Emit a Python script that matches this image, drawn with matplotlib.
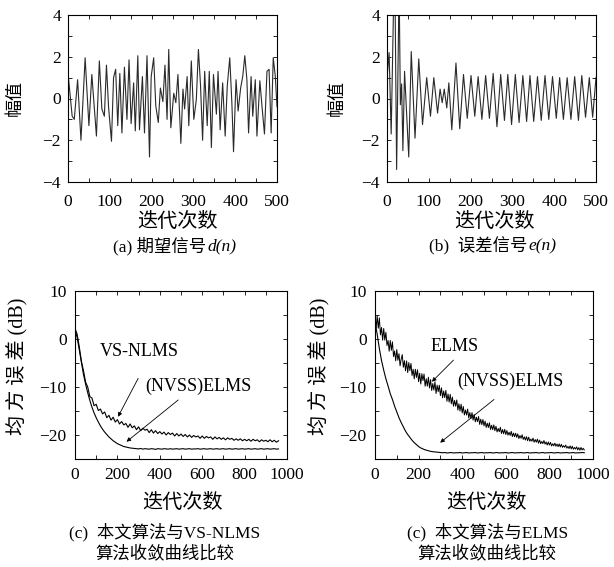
import matplotlib
matplotlib.use('Agg')
import matplotlib.pyplot as plt
from matplotlib.ticker import MultipleLocator

plt.rcParams['font.family'] = ['Liberation Serif', 'Noto Sans CJK SC']
plt.rcParams['axes.unicode_minus'] = True

# (a) desired signal d(n): extremes
a_n = [0, 1, 10, 15, 23, 31, 41, 50, 57, 68, 75, 81, 87, 92, 97, 104, 109, 114,
       119, 124, 129, 135, 141, 146, 151, 157, 161, 167, 171, 178, 183, 189,
       195, 199, 205, 210, 216, 221, 227, 232, 237, 241, 246, 253, 258, 263,
       270, 275, 279, 285, 289, 295, 301, 307, 312, 317, 322, 327, 333, 338,
       343, 348, 355, 359, 364, 370, 376, 381, 387, 392, 396, 402, 407, 413,
       418, 423, 428, 432, 438, 442, 448, 452, 459, 464, 470, 476, 481, 486,
       491, 496, 500]
a_val = [0.6, 1.0, -0.85, -1.0, 0.9, -2.0, 1.95, -1.3, 1.15, -1.8, 1.8, -0.5,
         -0.85, 1.6, -0.4, -2.05, 1.0, 1.4, -1.3, 1.2, -1.65, 1.5, -1.0, 1.85,
         -1.2, 0.75, -1.55, 2.05, -1.5, 1.05, -1.65, 2.05, -2.8, 1.05, 1.95,
         -0.35, -1.15, 0.5, -0.15, 1.6, -1.0, 2.35, -1.4, 0.25, -0.2, 1.15,
         -2.15, 0.45, -0.5, 1.05, -1.3, 1.8, -1.0, -0.05, 2.35, 0.65, -2.0, 1.3,
         -1.3, 1.3, -2.35, 1.15, -0.75, 1.3, -1.5, 0.75, -1.8, 0.6, 1.95, -0.2,
         -2.55, 0.9, -0.6, 0.5, 1.05, 2.05, 0.9, -1.65, 1.05, -0.85, 0.9, -1.8,
         0.85, -0.35, -1.7, 1.3, 1.4, -1.65, 1.95, 1.05, -0.4]

# (b) error signal e(n)
b_n = [0, 5, 10, 16, 19, 23, 26, 29, 32, 35, 38, 42, 52, 58, 67, 76, 85, 95,
       104, 112, 121, 127, 132, 137, 143, 148, 155, 165, 174, 183, 192, 201,
       210, 218, 227, 236, 245, 254, 263, 272, 281, 289, 298, 307, 316, 325,
       334, 342, 351, 360, 369, 378, 387, 396, 405, 413, 422, 431, 440, 449,
       458, 466, 475, 484, 492, 500]
b_val = [1.0, 2.2, -1.7, 4.8, 5.5, -3.4, 1.0, 5.5, -0.3, 0.7, -2.5, 1.3, -2.8,
         2.25, -1.9, 1.9, -1.25, 1.0, -0.85, 1.0, -0.7, 0.45, -0.2, 0.45,
         -0.45, 0.75, -1.5, 1.7, -1.45, 1.15, -0.95, 1.1, -0.85, 1.05, -1.0,
         1.1, -0.95, 1.2, -1.35, 1.15, -1.05, 1.15, -1.25, 1.15, -1.15, 1.1,
         -1.1, 1.1, -1.1, 1.05, -1.05, 1.1, -1.0, 1.05, -0.95, 1.0, -1.0, 1.0,
         -1.0, 1.05, -1.05, 1.1, -0.9, 1.0, -0.9, 1.0]

# MSE curves (dB)
mse_n = list(range(0, 961, 10))
vsnlms_c = [2.2, 1.0, -1.6, -4.6, -6.6, -9.0, -10.0, -12.0, -12.3, -13.9,
            -13.6, -14.9, -14.6, -15.6, -15.2, -16.4, -15.9, -16.9, -16.3, -17.3,
            -16.8, -17.7, -17.2, -17.9, -17.6, -18.4, -17.7, -18.5, -18.1, -18.9,
            -18.3, -19.1, -18.6, -19.0, -18.8, -19.5, -18.9, -19.6, -19.1, -19.7,
            -19.3, -19.8, -19.4, -20.0, -19.5, -19.9, -19.6, -20.2, -19.7, -20.2,
            -19.8, -20.3, -19.9, -20.4, -20.0, -20.5, -20.1, -20.4, -20.2, -20.7,
            -20.2, -20.7, -20.3, -20.6, -20.4, -20.9, -20.4, -20.8, -20.5, -20.9,
            -20.6, -21.0, -20.6, -20.9, -20.7, -21.1, -20.8, -21.1, -20.8, -21.2,
            -20.9, -21.2, -20.9, -21.3, -20.9, -21.2, -21.0, -21.4, -21.0, -21.3,
            -21.1, -21.4, -21.0, -21.4, -21.1, -21.5, -21.2]
nvss_c = [2.0, 0.3, -2.2, -4.8, -7.4, -9.4, -11.2, -12.8, -14.2, -15.4,
          -16.4, -17.3, -18.1, -18.8, -19.4, -19.9, -20.4, -20.8, -21.2, -21.5,
          -21.8, -22.0, -22.2, -22.4, -22.5, -22.6, -22.7, -22.75, -22.8, -22.85,
          -22.9, -22.8, -22.95, -22.85, -22.9, -22.95, -22.85, -22.9, -23.0, -22.85,
          -22.9, -22.95, -22.85, -22.9, -22.95, -22.85, -22.95, -22.9, -22.85, -22.95,
          -22.9, -22.85, -22.95, -22.9, -22.85, -22.95, -22.9, -22.9, -22.85, -22.95,
          -22.9, -22.85, -22.95, -22.9, -22.85, -22.95, -22.9, -22.85, -22.95, -22.9,
          -22.85, -22.95, -22.9, -22.85, -22.95, -22.9, -22.85, -22.95, -22.9, -22.85,
          -22.95, -22.9, -22.85, -22.95, -22.9, -22.85, -22.95, -22.9, -22.85, -22.95,
          -22.9, -22.85, -22.95, -22.9, -22.85, -22.95, -22.9]

elms_n = list(range(0, 961, 5))
elms_d = [5.0, 2.25, 4.8, 2.25, 4.4, 0.85, 2.4, -0.25, 2.2, -0.25,
          1.4, -1.35, -0.3, -2.55, -0.3, -2.35, -0.6, -3.65, -2.5, -4.55,
          -2.2, -4.43, -3.06, -5.59, -4.22, -3.25, -5.88, -4.51, -6.64, -4.57,
          -7.0, -4.9, -6.6, -5.1, -7.6, -6.3, -8.3, -6.3, -8.0, -6.4,
          -8.9, -7.14, -9.38, -7.22, -8.66, -7.3, -9.84, -8.28, -9.82, -7.96,
          -10.2, -8.46, -10.72, -9.28, -10.64, -8.9, -11.36, -9.62, -10.98, -9.64,
          -11.8, -10.18, -12.26, -10.84, -12.22, -10.7, -12.98, -11.46, -13.14, -11.52,
          -13.5, -12.1, -14.0, -12.8, -14.0, -12.7, -14.8, -13.5, -15.0, -13.6,
          -15.4, -14.06, -15.82, -14.78, -15.84, -14.6, -16.46, -15.32, -16.58, -15.34,
          -16.9, -15.73, -17.26, -16.29, -17.22, -16.15, -17.78, -16.71, -17.84, -16.77,
          -18.1, -17.11, -18.42, -17.53, -18.44, -17.45, -18.86, -17.97, -18.88, -17.89,
          -19.1, -18.18, -19.36, -18.64, -19.32, -18.4, -19.68, -18.86, -19.74, -18.82,
          -19.9, -19.07, -20.04, -19.41, -20.08, -19.25, -20.32, -19.59, -20.36, -19.63,
          -20.5, -19.77, -20.74, -20.11, -20.68, -19.95, -20.92, -20.39, -21.06, -20.33,
          -21.2, -20.45, -21.3, -20.85, -21.3, -20.65, -21.5, -20.95, -21.5, -20.85,
          -21.7, -21.05, -21.8, -21.35, -21.8, -21.15, -21.9, -21.45, -22.1, -21.45,
          -22.1, -21.54, -22.28, -21.82, -22.26, -21.7, -22.34, -21.88, -22.42, -21.86,
          -22.5, -21.94, -22.58, -22.22, -22.56, -22.1, -22.74, -22.38, -22.82, -22.26,
          -22.9, -22.33, -22.97, -22.6, -22.93, -22.47, -23.1, -22.63, -23.17, -22.6,
          -23.13, -22.77, -23.1]
nvss_d = [3.5, 1.0, -2.0, -4.5, -6.5, -8.3, -9.8, -11.4, -12.6, -14.0,
          -15.2, -16.4, -17.4, -18.3, -19.2, -19.9, -20.5, -21.1, -21.6, -22.0,
          -22.4, -22.7, -22.9, -23.1, -23.2, -23.35, -23.45, -23.5, -23.55, -23.6,
          -23.65, -23.7, -23.65, -23.75, -23.7, -23.65, -23.75, -23.7, -23.7, -23.65,
          -23.75, -23.7, -23.65, -23.75, -23.7, -23.7, -23.65, -23.75, -23.7, -23.65,
          -23.75, -23.7, -23.7, -23.65, -23.75, -23.7, -23.65, -23.75, -23.7, -23.7,
          -23.65, -23.75, -23.7, -23.65, -23.75, -23.7, -23.7, -23.65, -23.75, -23.7,
          -23.65, -23.75, -23.7, -23.7, -23.65, -23.75, -23.7, -23.65, -23.75, -23.7,
          -23.7, -23.65, -23.75, -23.7, -23.65, -23.75, -23.7, -23.7, -23.65, -23.75,
          -23.7, -23.65, -23.75, -23.7, -23.7, -23.65, -23.7]

W, H = 614, 567
fig = plt.figure(figsize=(W / 100, H / 100), dpi=100)


def px_axes(left, top, right, bottom):
    return fig.add_axes([left / W, 1 - bottom / H, (right - left) / W, (bottom - top) / H])


def style(ax, xmaj, xmin, ymaj, ymin, xpad, ypad):
    ax.xaxis.set_major_locator(MultipleLocator(xmaj))
    ax.xaxis.set_minor_locator(MultipleLocator(xmin))
    ax.yaxis.set_major_locator(MultipleLocator(ymaj))
    ax.yaxis.set_minor_locator(MultipleLocator(ymin))
    ax.tick_params(which='both', direction='in', top=True, right=True,
                   length=3, width=0.6, labelsize=12.5)
    ax.tick_params(axis='x', which='major', pad=xpad)
    ax.tick_params(axis='y', which='major', pad=ypad)
    for s in ax.spines.values():
        s.set_linewidth(0.8)


def ylab(ax, text, size, xc, yc):
    ax.set_ylabel(text, fontsize=size, va='center')
    ax.yaxis.set_label_coords(xc, yc)


ax1 = px_axes(68, 15, 277, 182)
ax1.plot(a_n, a_val, color='#2a2a2a', linewidth=0.8)
ax1.set_xlim(0, 500)
ax1.set_ylim(-4, 4)
style(ax1, 100, 50, 2, 1, 9, 5)
ylab(ax1, '幅值', 13, -0.25, 0.5)

ax2 = px_axes(387, 15, 596, 182)
ax2.plot(b_n, b_val, color='#2a2a2a', linewidth=0.8)
ax2.set_xlim(0, 500)
ax2.set_ylim(-4, 4)
style(ax2, 100, 50, 2, 1, 9, 5)
ylab(ax2, '幅值', 13, -0.24, 0.5)

ax3 = px_axes(75, 291, 287, 459)
ax3.plot(mse_n, vsnlms_c, color='black', linewidth=0.8)
ax3.plot(mse_n, nvss_c, color='black', linewidth=0.8)
ax3.set_xlim(0, 1000)
ax3.set_ylim(-25, 10)
style(ax3, 200, 100, 10, 5, 6, 6)
ylab(ax3, '均 方 误 差 (dB)', 14.5, -0.275, 0.55)

ax4 = px_axes(375, 291, 593, 459)
ax4.plot(elms_n, elms_d, color='black', linewidth=0.7)
ax4.plot(mse_n, nvss_d, color='black', linewidth=0.8)
ax4.set_xlim(0, 1000)
ax4.set_ylim(-25, 10)
style(ax4, 200, 100, 10, 5, 6, 6)
ylab(ax4, '均 方 误 差 (dB)', 14.5, -0.26, 0.55)

arrow = dict(arrowstyle='-|>', lw=0.6, color='black', mutation_scale=6,
             shrinkA=0, shrinkB=0)
ax3.text(117, -2.6, 'VS-NLMS', fontsize=13, va='center')
ax3.annotate('', xy=(203, -16.2), xytext=(298, -8.2), arrowprops=arrow)
ax3.text(333, -9.9, '(NVSS)ELMS', fontsize=13, va='center')
ax3.annotate('', xy=(243, -21.4), xytext=(487, -12.7), arrowprops=arrow)

ax4.text(253, -1.6, 'ELMS', fontsize=13, va='center')
ax4.annotate('', xy=(261, -8.9), xytext=(360, -4.4), arrowprops=arrow)
ax4.text(375, -8.9, '(NVSS)ELMS', fontsize=13, va='center')
ax4.annotate('', xy=(299, -21.6), xytext=(546, -12.6), arrowprops=arrow)

# x labels and captions
for xc, yc in [(177, 222), (494, 222), (182, 503), (486, 503)]:
    fig.text(xc / W, 1 - yc / H, '迭代次数', fontsize=14.5, ha='center', va='center')

fig.text(206 / W, 1 - 246 / H, '(a) 期望信号', fontsize=12.5, ha='right', va='center')
fig.text(207 / W, 1 - 246 / H, 'd(n)', fontsize=12.5, style='italic', ha='left', va='center')
fig.text(527 / W, 1 - 246 / H, '(b)  误差信号', fontsize=12.5, ha='right', va='center')
fig.text(528 / W, 1 - 246 / H, 'e(n)', fontsize=12.5, style='italic', ha='left', va='center')
fig.text(165 / W, 1 - 532 / H, '(c)  本文算法与VS-NLMS', fontsize=12.5, ha='center', va='center')
fig.text(165 / W, 1 - 555 / H, '算法收敛曲线比较', fontsize=12.5, ha='center', va='center')
fig.text(488 / W, 1 - 532 / H, '(c)  本文算法与ELMS', fontsize=12.5, ha='center', va='center')
fig.text(487 / W, 1 - 555 / H, '算法收敛曲线比较', fontsize=12.5, ha='center', va='center')

fig.savefig('out.png', dpi=100, facecolor='white')
